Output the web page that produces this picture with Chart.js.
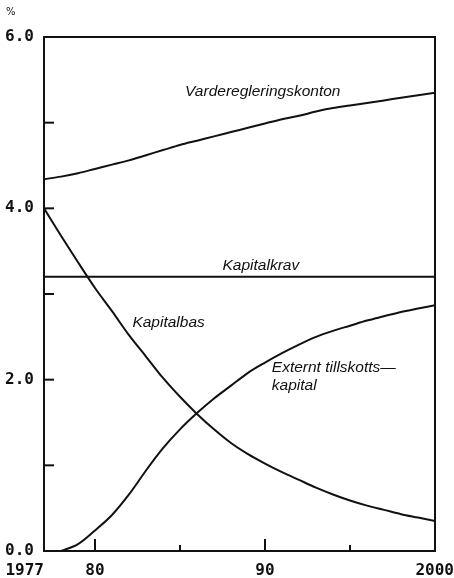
<!DOCTYPE html>
<html>
<head>
<meta charset="utf-8">
<script src="https://cdn.jsdelivr.net/npm/chart.js@4"></script>
<style>
  html, body { margin: 0; padding: 0; background: #fff; }
  #wrap { width: 454px; height: 578px; }
</style>
</head>
<body>
<div id="wrap"><canvas id="chart" width="454" height="578"></canvas></div>
<script>
// years on the x axis
const years = [1977, 1978, 1979, 1980, 1981, 1982, 1983, 1984, 1985, 1986, 1987, 1988,
  1989, 1990, 1991, 1992, 1993, 1994, 1995, 1996, 1997, 1998, 1999, 2000];

const vardereglering = [4.34, 4.37, 4.41, 4.46, 4.51, 4.56, 4.62, 4.68, 4.74, 4.79, 4.84, 4.89,
  4.94, 4.99, 5.04, 5.08, 5.13, 5.17, 5.20, 5.23, 5.26, 5.29, 5.32, 5.35];
const kapitalkrav = [3.2, 3.2, 3.2, 3.2, 3.2, 3.2, 3.2, 3.2, 3.2, 3.2, 3.2, 3.2,
  3.2, 3.2, 3.2, 3.2, 3.2, 3.2, 3.2, 3.2, 3.2, 3.2, 3.2, 3.2];
const kapitalbas = [4.0, 3.68, 3.37, 3.07, 2.80, 2.52, 2.27, 2.02, 1.80, 1.60, 1.42, 1.26,
  1.13, 1.02, 0.92, 0.83, 0.74, 0.66, 0.59, 0.53, 0.48, 0.43, 0.39, 0.35];
// external capital starts in 1978
const externt = [null, 0.0, 0.08, 0.24, 0.42, 0.66, 0.94, 1.20, 1.42, 1.61, 1.78, 1.93,
  2.08, 2.20, 2.31, 2.41, 2.50, 2.57, 2.63, 2.69, 2.74, 2.79, 2.83, 2.87];

const yTicks = [0, 1, 2, 3, 4, 5, 6];
const yTickLabels = { 0: '0.0', 2: '2.0', 4: '4.0', 6: '6.0' };
const xTicks = [1980, 1985, 1990, 1995];
const xTickLabels = [[1977, '1977'], [1980, '80'], [1990, '90'], [2000, '2000']];

const seriesNames = ['Varderegleringskonton', 'Kapitalkrav', 'Kapitalbas', 'Externt tillskotts—'];

const pts = arr => years.map((y, i) => ({ x: y, y: arr[i] }));

const ink = '#111';
const tickFont = 'bold 16px "DejaVu Sans Mono"';
const labelFont = 'italic 15.5px "Liberation Sans"';

// draws frame, inward ticks, tick labels and curve captions
const decor = {
  id: 'decor',
  afterDatasetsDraw(chart) {
    const { ctx, chartArea: a, scales: { x, y } } = chart;
    ctx.save();
    ctx.strokeStyle = ink;
    ctx.lineWidth = 2;
    ctx.strokeRect(a.left, a.top, a.right - a.left, a.bottom - a.top);

    // y ticks pointing inward
    yTicks.forEach(v => {
      const py = y.getPixelForValue(v);
      ctx.beginPath();
      ctx.moveTo(a.left, py);
      ctx.lineTo(a.left + 10, py);
      ctx.stroke();
    });
    xTicks.forEach(v => {
      const px = x.getPixelForValue(v);
      const len = v % 10 === 0 ? 12 : 6;
      ctx.beginPath();
      ctx.moveTo(px, a.bottom);
      ctx.lineTo(px, a.bottom - len);
      ctx.stroke();
    });

    ctx.fillStyle = ink;
    ctx.font = tickFont;
    ctx.textAlign = 'right';
    ctx.textBaseline = 'middle';
    Object.keys(yTickLabels).forEach(v => {
      ctx.fillText(yTickLabels[v], a.left - 10, y.getPixelForValue(+v));
    });
    xTickLabels.forEach(([v, t]) => {
      const px = x.getPixelForValue(v);
      if (v === 1977) { ctx.textAlign = 'right'; ctx.fillText(t, px, a.bottom + 20); }
      else if (v === 2000) { ctx.textAlign = 'right'; ctx.fillText(t, px + 19, a.bottom + 20); }
      else { ctx.textAlign = 'center'; ctx.fillText(t, px, a.bottom + 20); }
    });

    ctx.font = '10px "DejaVu Sans"';
    ctx.textAlign = 'left';
    ctx.fillText('%', 6, 12);

    // curve captions
    ctx.font = labelFont;
    ctx.textBaseline = 'alphabetic';
    ctx.textAlign = 'left';
    const cap = (t, xv, yv) => ctx.fillText(t, x.getPixelForValue(xv), y.getPixelForValue(yv));
    cap(seriesNames[0], 1985.3, 5.31);
    cap(seriesNames[1], 1987.5, 3.28);
    cap(seriesNames[2], 1982.2, 2.61);
    cap(seriesNames[3], 1990.4, 2.09);
    cap('kapital', 1990.4, 1.88);
    ctx.restore();
  }
};

const line = (label, arr) => ({
  label,
  data: pts(arr),
  borderColor: ink,
  borderWidth: 2,
  pointRadius: 0,
  fill: false,
  cubicInterpolationMode: 'monotone',
  spanGaps: false
});

new Chart(document.getElementById('chart').getContext('2d'), {
  type: 'line',
  data: {
    datasets: [
      line(seriesNames[0], vardereglering),
      line(seriesNames[1], kapitalkrav),
      line(seriesNames[2], kapitalbas),
      line(seriesNames[3], externt)
    ]
  },
  options: {
    responsive: false,
    animation: false,
    layout: { padding: { left: 36, right: 19, top: 37, bottom: 19 } },
    plugins: { legend: { display: false }, tooltip: { enabled: false } },
    scales: {
      x: {
        type: 'linear', min: 1977, max: 2000,
        ticks: { display: false },
        grid: { display: false },
        border: { display: false }
      },
      y: {
        min: 0, max: 6,
        ticks: { display: false, stepSize: 1 },
        grid: { display: false },
        border: { display: false }
      }
    }
  },
  plugins: [decor]
});
</script>
</body>
</html>
